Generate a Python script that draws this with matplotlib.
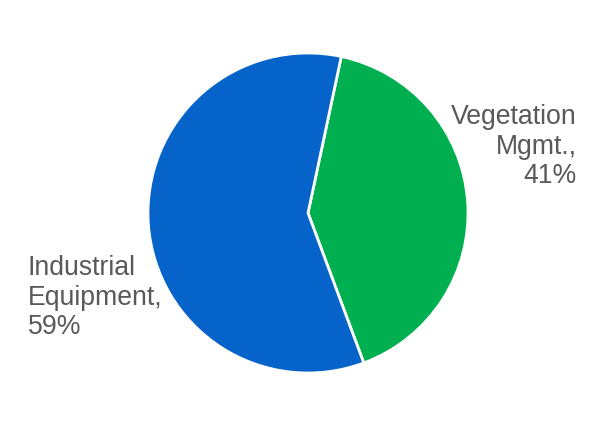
import matplotlib
matplotlib.use('Agg')
import matplotlib.pyplot as plt

plt.rcParams['font.family'] = ['Liberation Sans', 'DejaVu Sans']

# shares of the two segments
labels = ['Vegetation\nMgmt.,\n41%', 'Industrial\nEquipment,\n59%']
shares = [41, 59]
colors = ['#00B050', '#0563C9']

fig = plt.figure(figsize=(5.9, 4.43), dpi=100)
ax = fig.add_axes([0, 0, 1, 1])

ax.pie(shares, colors=colors, startangle=78, counterclock=False,
       radius=1, wedgeprops=dict(edgecolor='white', linewidth=2))

# axis limits keep the pie centred at (308, 213) px with a 160 px radius
ax.set_xlim(-308 / 160, (590 - 308) / 160)
ax.set_ylim(-(443 - 213) / 160, 213 / 160)
ax.set_aspect('auto')
ax.axis('off')

ax.text(1.68, 0.415, labels[0], ha='right', va='center', multialignment='right',
        fontsize=19.2, color='#595959', linespacing=1.17)
ax.text(-1.75, -0.53, labels[1], ha='left', va='center', multialignment='left',
        fontsize=19.2, color='#595959', linespacing=1.17)

fig.savefig('out.png', dpi=100)
